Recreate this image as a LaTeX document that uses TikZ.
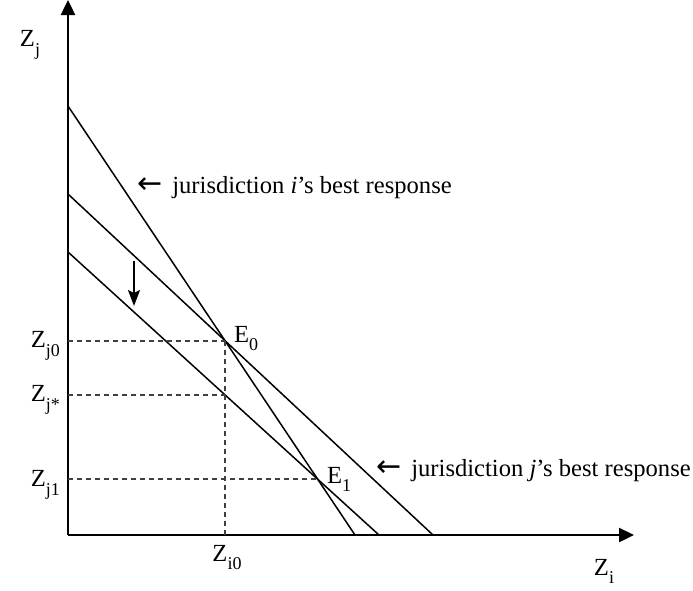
\documentclass[tikz,border=0pt]{standalone}
\usepackage{fontspec}
\setmainfont{Liberation Serif}
\newfontfamily\arrowfont{DejaVu Sans}
\usetikzlibrary{arrows.meta,intersections,calc}
\newcommand\lsub[1]{\raisebox{-0.36em}{\fontsize{18}{20}\selectfont #1}}
\newcommand\larr{{\arrowfont\fontsize{30}{30}\selectfont ←}\hspace{10pt}}
\tikzset{
  axis/.style={line width=2.4pt,-{Triangle[length=15pt,width=14pt]}},
  resp/.style={line width=1.5pt},
  guide/.style={line width=1.6pt,draw=black!75,dash pattern=on 5pt off 4pt},
  lbl/.style={font=\fontsize{24.6}{28}\selectfont,inner sep=0pt},
  downarrow/.style={line width=2.2pt,-{Stealth[length=16pt,width=12pt,inset=3pt]}}
}
\begin{document}
\begin{tikzpicture}[x=1pt,y=-1pt]
\useasboundingbox (0,0) rectangle (693,590);
\coordinate (O) at (68,535);
\coordinate (ytop) at (68,0);
\coordinate (xend) at (634,535);
\draw[axis] (O) -- (ytop);
\draw[axis] (O) -- (xend);
% best responses
\coordinate (ia) at (68,106);  \coordinate (ib) at (355,535);
\coordinate (ja) at (68,194);  \coordinate (jb) at (433,535);
\coordinate (ka) at (68,252);  \coordinate (kb) at (379,535);
\draw[resp,name path=li] (ia) -- (ib);
\draw[resp,name path=lj] (ja) -- (jb);
\draw[resp,name path=lk] (ka) -- (kb);
\path[name intersections={of=li and lj,by=E0}];
\path[name intersections={of=li and lk,by=E1}];
\path[name path=vert] (E0) -- (E0 |- O);
\path[name intersections={of=vert and lk,by=S}];
% guides
\draw[guide] (O |- E0) -- (E0);
\draw[guide] (E0) -- (E0 |- O);
\draw[guide] (O |- S) -- (S);
\draw[guide] (O |- E1) -- (E1);
% shift arrow
\coordinate (sa) at (134,261);
\coordinate (sb) at (134,306);
\draw[downarrow] (sa) -- (sb);
% labels
\node[lbl] (zj) at (30,45) {Z\lsub{j}};
\node[lbl,anchor=base east] (zj0) at ($(O |- E0)+(-8,7)$) {Z\lsub{j0}};
\node[lbl,anchor=base east] (zjs) at ($(O |- S)+(-8,7)$) {Z\lsub{j*}};
\node[lbl,anchor=base east] (zj1) at ($(O |- E1)+(-8,7)$) {Z\lsub{j1}};
\node[lbl,anchor=base] (zi0) at (227,561) {Z\lsub{i0}};
\node[lbl,anchor=base] (zi) at (604,575) {Z\lsub{i}};
\node[lbl,anchor=base west] (e0) at (234,342) {E\lsub{0}};
\node[lbl,anchor=base west] (e1) at (327,483) {E\lsub{1}};
\node[lbl,anchor=base west] (ti) at (137,193) {\larr jurisdiction \textit{i}’s best response};
\node[lbl,anchor=base west] (tj) at (376,476) {\larr jurisdiction \textit{j}’s best response};
\end{tikzpicture}
\end{document}
